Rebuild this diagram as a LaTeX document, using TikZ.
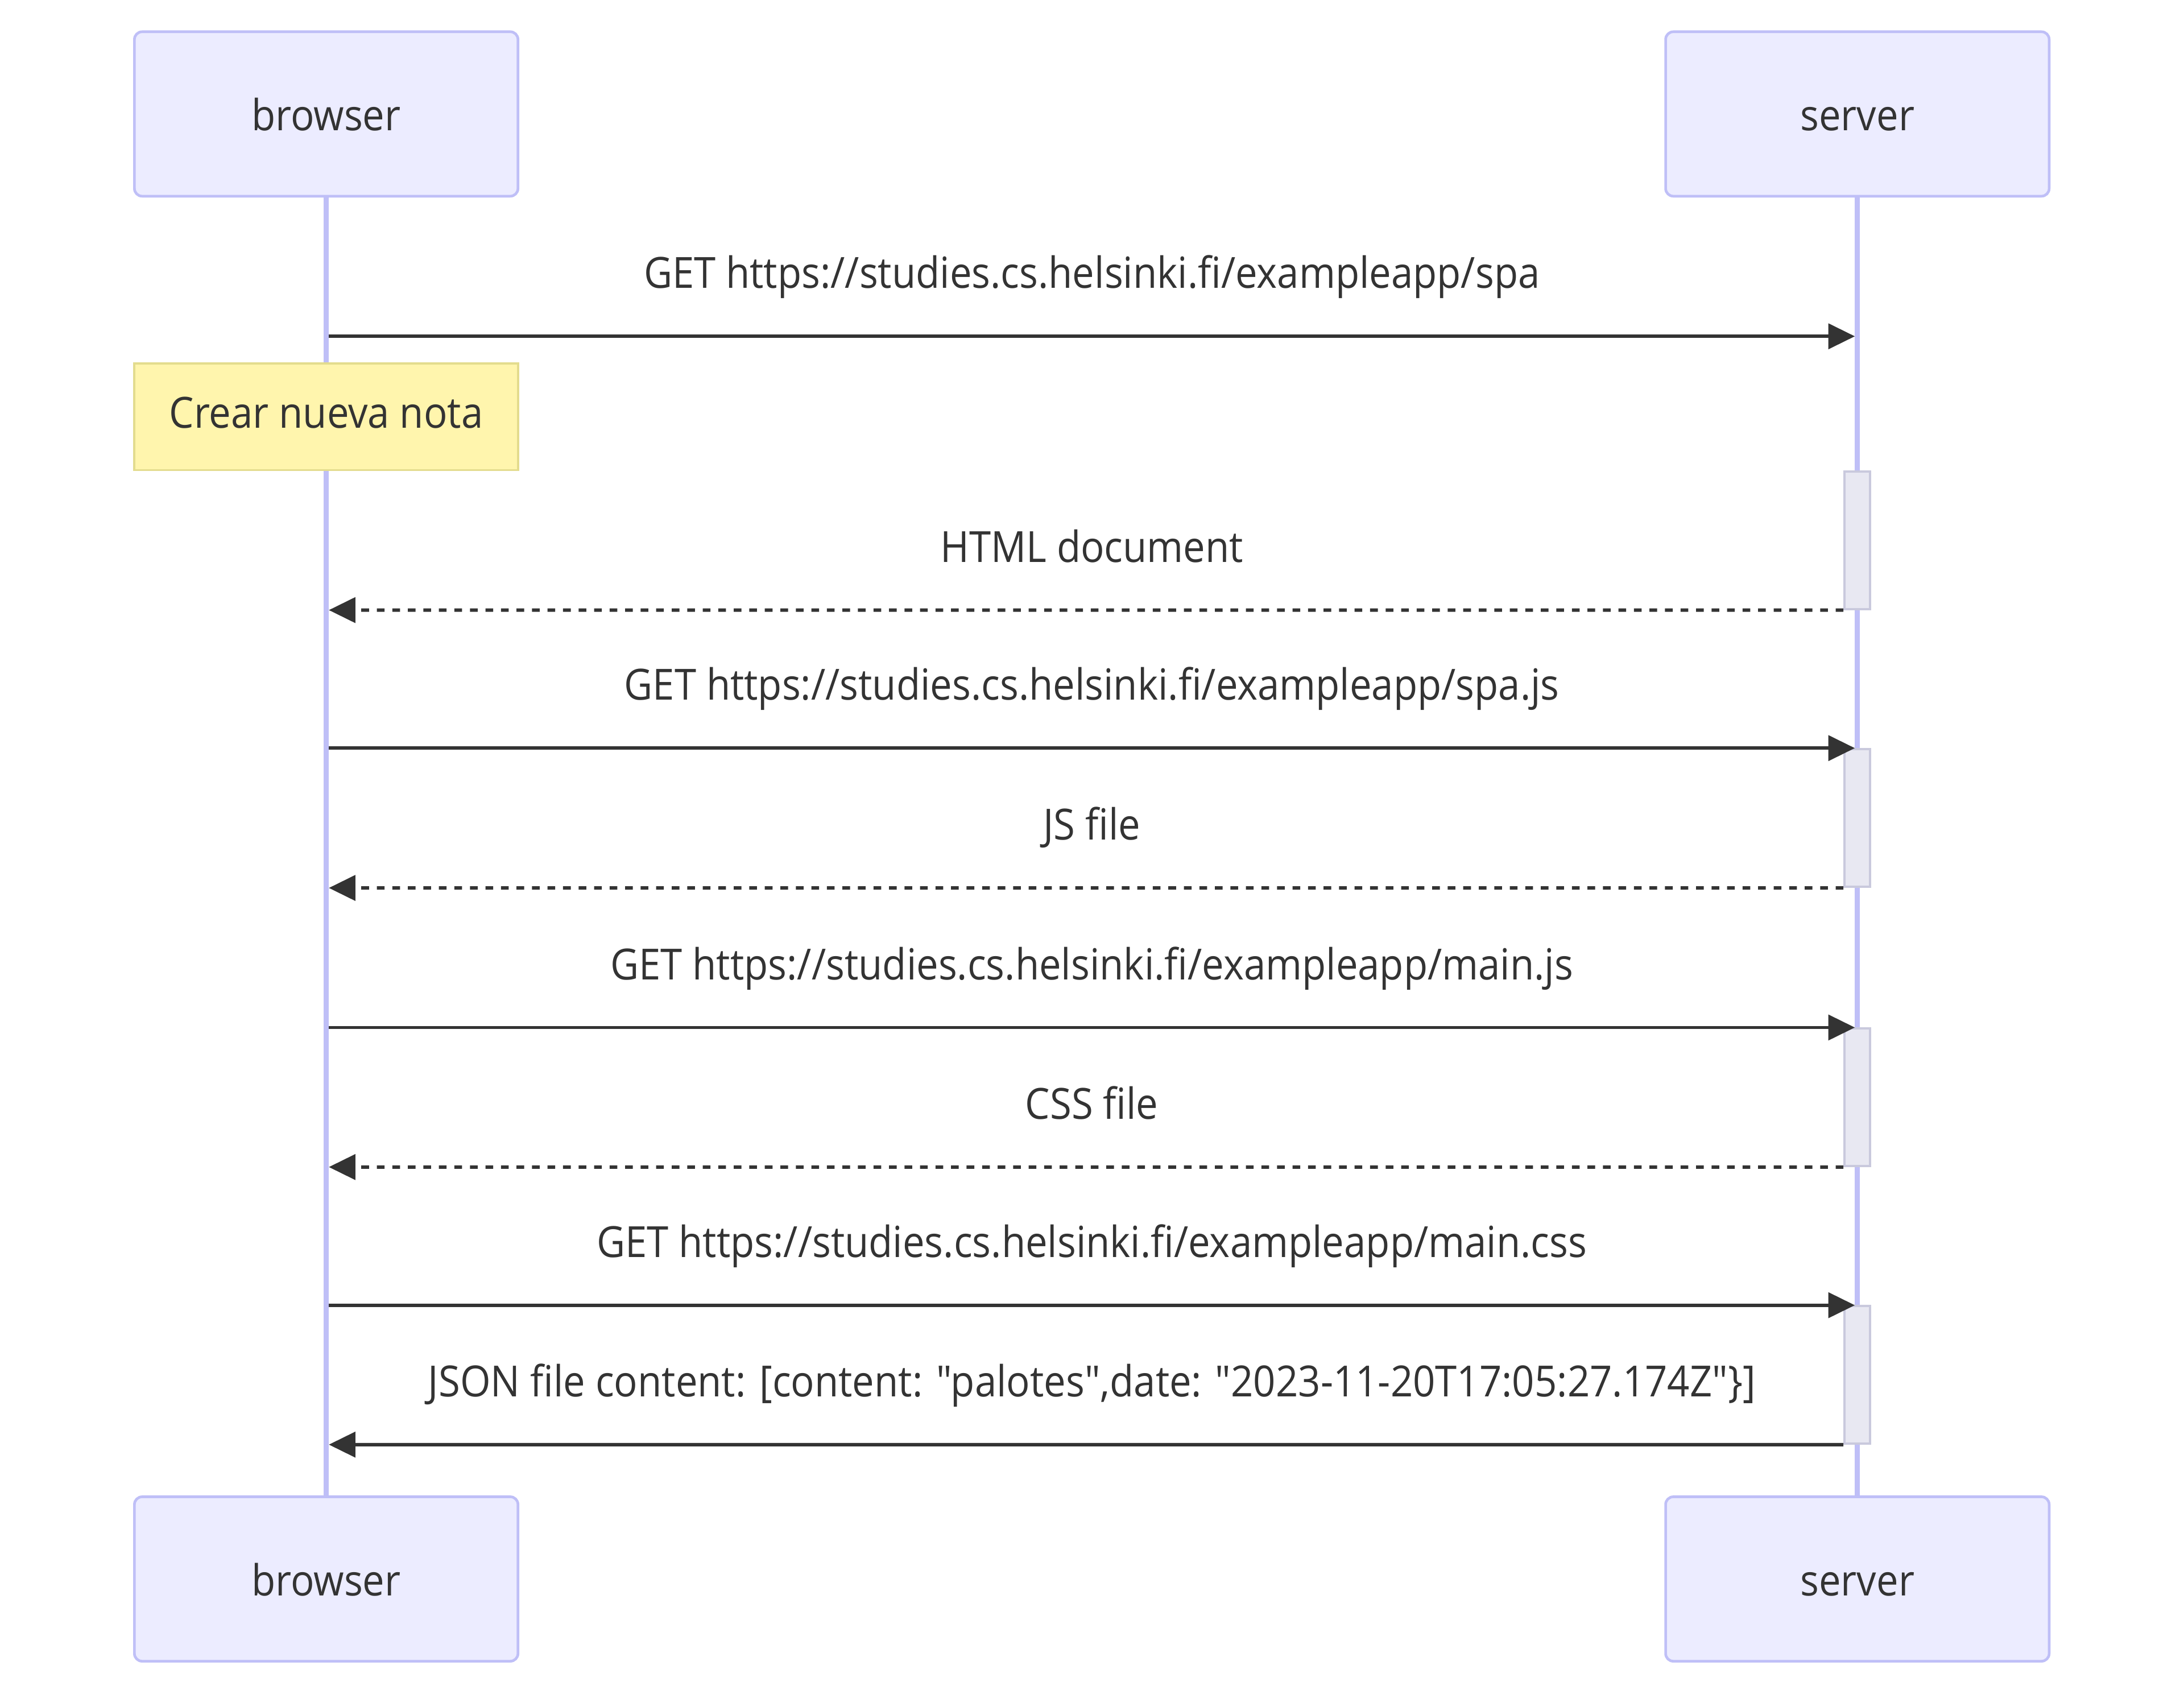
\documentclass[tikz,border=0pt]{standalone}
\usepackage{fontspec}
\setmainfont{Open Sans}[Ligatures=TeXOff,FakeStretch=0.912]
\usepackage{tikz}
\usetikzlibrary{arrows.meta,positioning}
\definecolor{actfill}{HTML}{ECECFF}
\definecolor{actline}{HTML}{BFBFF7}
\definecolor{notefill}{HTML}{FFF5AD}
\definecolor{noteline}{HTML}{E3DC8E}
\definecolor{actvfill}{HTML}{E8E8F2}
\definecolor{actvline}{HTML}{C9C9DD}
\definecolor{ink}{HTML}{333333}
\newcommand\diagfont{\fontsize{30.7bp}{36bp}\selectfont}

\begin{document}
\begin{tikzpicture}[x=1bp,y=-1bp,
    actor/.style={draw=actline,fill=actfill,line width=1.9bp,rounded corners=5.5bp,
        minimum width=274.3bp,minimum height=117.6bp,text=ink,font=\diagfont,
        text height=24bp,text depth=0bp},
    note/.style={draw=noteline,fill=notefill,line width=1.6bp,
        minimum width=274.6bp,minimum height=76.2bp,text=ink,font=\diagfont,
        text height=15.6bp,text depth=0bp},
    actv/.style={draw=actvline,fill=actvfill,line width=1.6bp,
        minimum width=18.4bp,minimum height=98.4bp,inner sep=0bp},
    life/.style={draw=actline,line width=3.7bp},
    msg/.style={draw=ink,line width=2.4bp,-{Triangle[length=19bp,width=18bp]}},
    reply/.style={msg,dash pattern=on 5.5bp off 5.6bp},
    lbl/.style={text=ink,font=\diagfont,inner sep=0bp,anchor=base}]
    \useasboundingbox (0,0) rectangle (1562,1212);
    %%actors
    \node[actor] (browserTop) at (233.3,81.5) {browser};
    \node[actor] (serverTop) at (1328.4,81.5) {server};
    \node[actor] (browserBot) at (233.3,1129.2) {browser};
    \node[actor] (serverBot) at (1328.4,1129.2) {server};
    %%lifelines
    \draw[life] (browserTop) -- (browserBot);
    \draw[life] (serverTop) -- (serverBot);
    %%note
    \node[note] (nota) at (233.3,298.1) {Crear nueva nota};
    %%activations
    \node[actv] (act1) at (1328.4,386.3) {};
    \node[actv] (act2) at (1328.4,585.0) {};
    \node[actv] (act3) at (1328.4,784.6) {};
    \node[actv] (act4) at (1328.4,983.1) {};
    %%requests
    \foreach \i/\y/\f in {1/240.5/spa,2/535.0/spa.js,3/734.8/main.js,4/933.4/main.css}{
        \coordinate (req\i b) at (235.2,\y);
        \coordinate (req\i s) at (1326.6,\y);
        \draw[msg] (req\i b) -- (req\i s);
        \node[lbl] (reqlbl\i) at (780.9,\y-34.3) {GET https://studies.cs.helsinki.fi/exampleapp/\f};
    }
    %%replies
    \coordinate (rep1) at (235.2,436.3);
    \coordinate (rep2) at (235.2,635.0);
    \coordinate (rep3) at (235.2,834.6);
    \coordinate (rep4) at (235.2,1033.1);
    \draw[reply] (act1.south west) -- (rep1);
    \draw[reply] (act2.south west) -- (rep2);
    \draw[reply] (act3.south west) -- (rep3);
    \draw[msg] (act4.south west) -- (rep4);
    \node[lbl] (replbl1) at (780.9,402.0) {HTML document};
    \node[lbl] (replbl2) at (780.9,600.7) {JS file};
    \node[lbl] (replbl3) at (780.9,800.3) {CSS file};
    \node[lbl] (replbl4) at (780.9,998.8) {JSON file content: [content: "palotes",date: "2023-11-20T17:05:27.174Z"\}]};
\end{tikzpicture}
\end{document}
